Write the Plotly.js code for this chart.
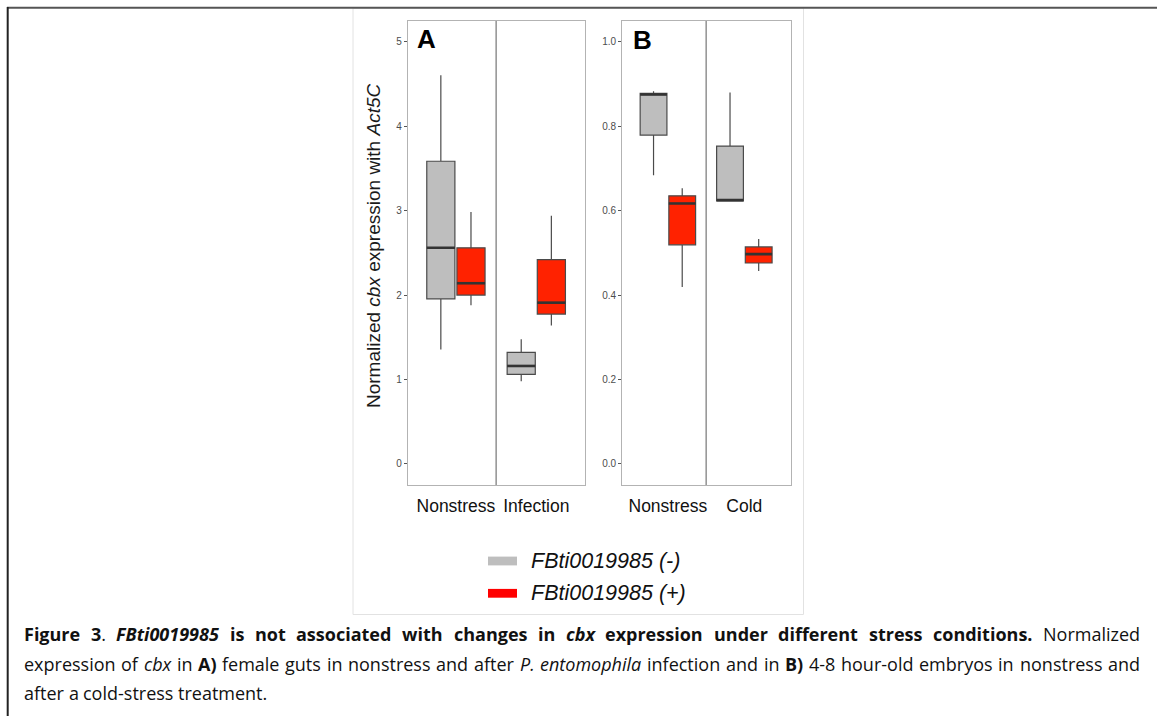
<!DOCTYPE html>
<html>
<head>
<meta charset="utf-8">
<script src="https://cdn.plot.ly/plotly-3.0.1.min.js"></script>
<style>
html,body{margin:0;padding:0;background:#fff;}
#chart{width:1157px;height:716px;}
</style>
</head>
<body>
<div id="chart"></div>
<script>
// ---------------- DATA ----------------
const categoriesA = ["Nonstress", "Infection"];
const categoriesB = ["Nonstress", "Cold"];
const groups = ["FBti0019985 (-)", "FBti0019985 (+)"];
const panelLabels = ["A", "B"];
const yTitle = "Normalized <i>cbx</i> expression with <i>Act5C</i>";

// Panel A : female guts
const aMinusLower  = [1.355, 0.98];
const aMinusQ1     = [1.955, 1.06];
const aMinusMedian = [2.56, 1.16];
const aMinusQ3     = [3.585, 1.32];
const aMinusUpper  = [4.605, 1.477];
const aPlusLower   = [1.88, 1.64];
const aPlusQ1      = [2.0, 1.775];
const aPlusMedian  = [2.14, 1.91];
const aPlusQ3      = [2.56, 2.42];
const aPlusUpper   = [2.985, 2.94];

// Panel B : embryos
const bMinusLower  = [0.684, 0.623];
const bMinusQ1     = [0.779, 0.623];
const bMinusMedian = [0.875, 0.625];
const bMinusQ3     = [0.878, 0.753];
const bMinusUpper  = [0.883, 0.88];
const bPlusLower   = [0.419, 0.457];
const bPlusQ1      = [0.519, 0.476];
const bPlusMedian  = [0.617, 0.497];
const bPlusQ3      = [0.635, 0.514];
const bPlusUpper   = [0.653, 0.533];

const yTicksA = [0, 1, 2, 3, 4, 5];
const yTicksB = [0, 0.2, 0.4, 0.6, 0.8, 1.0];

// ---------------- STYLE / LAYOUT HELPERS ----------------
const W = 1157, H = 716;
const px = x => x / W;
const py = y => 1 - y / H;
const colors = ["#bebebe", "#ff2200"];
const legendColors = ["#bebebe", "#ff0000"];
const dodge = [-0.1875, 0.1875];
const boxW = 0.35;
const axisFont = "Liberation Sans, Arial, sans-serif";

function boxTrace(stats, gi, xa, ya) {
  const pos = stats.median.map((_, i) => i + dodge[gi]);
  return {
    type: "box", x: pos,
    q1: stats.q1, median: stats.median, q3: stats.q3,
    lowerfence: stats.lower, upperfence: stats.upper,
    width: boxW, whiskerwidth: 0, boxpoints: false,
    fillcolor: colors[gi], line: {color: "#4a4a4a", width: 1.2},
    xaxis: xa, yaxis: ya, showlegend: false, hoverinfo: "skip", name: groups[gi]
  };
}
function medianShapes(stats, gi, xa, ya) {
  return stats.median.map((m, i) => ({
    type: "line", xref: xa, yref: ya,
    x0: i + dodge[gi] - boxW / 2, x1: i + dodge[gi] + boxW / 2, y0: m, y1: m,
    line: {color: "#333333", width: 2.6}
  }));
}

const sets = [
  {xa: "x", ya: "y", st: [
    {lower: aMinusLower, q1: aMinusQ1, median: aMinusMedian, q3: aMinusQ3, upper: aMinusUpper},
    {lower: aPlusLower, q1: aPlusQ1, median: aPlusMedian, q3: aPlusQ3, upper: aPlusUpper}]},
  {xa: "x2", ya: "y2", st: [
    {lower: bMinusLower, q1: bMinusQ1, median: bMinusMedian, q3: bMinusQ3, upper: bMinusUpper},
    {lower: bPlusLower, q1: bPlusQ1, median: bPlusMedian, q3: bPlusQ3, upper: bPlusUpper}]}
];

const traces = [];
const shapes = [];
sets.forEach(s => {
  shapes.push({type: "line", xref: s.xa, yref: s.ya + " domain", x0: 0.5, x1: 0.5, y0: 0, y1: 1,
               line: {color: "#5a5a5a", width: 1}, layer: "below"});
  s.st.forEach((st, gi) => {
    traces.push(boxTrace(st, gi, s.xa, s.ya));
    medianShapes(st, gi, s.xa, s.ya).forEach(sh => shapes.push(sh));
  });
});

// frame decorations
shapes.push({type: "rect", xref: "paper", yref: "paper", x0: px(353), x1: px(803.5), y0: py(614.5), y1: py(8),
             line: {color: "#e2e2e2", width: 1}, layer: "below"});
shapes.push({type: "line", xref: "paper", yref: "paper", x0: px(7), x1: 1, y0: py(7.7), y1: py(7.7),
             line: {color: "#555555", width: 2}});
shapes.push({type: "line", xref: "paper", yref: "paper", x0: px(7.7), x1: px(7.7), y0: py(7), y1: 0,
             line: {color: "#222222", width: 2}});

// legend swatches
const legendY = [561, 593.3];
groups.forEach((g, gi) => {
  shapes.push({type: "rect", xref: "paper", yref: "paper", x0: px(488), x1: px(517),
               y0: py(legendY[gi] + 4.4), y1: py(legendY[gi] - 4.4),
               fillcolor: legendColors[gi], line: {width: 0}});
});

const annotations = [];
groups.forEach((g, gi) => {
  annotations.push({xref: "paper", yref: "paper", x: px(530), y: py(legendY[gi]), xanchor: "left", yanchor: "middle",
    text: "<i>" + g + "</i>", showarrow: false, borderpad: 0,
    font: {family: axisFont, size: 21.5, color: "#111"}});
});
// panel letters
annotations.push({xref: "paper", yref: "paper", x: px(415.5), y: py(38.5), xanchor: "left", yanchor: "middle",
  text: "<b>" + panelLabels[0] + "</b>", showarrow: false, borderpad: 0, font: {family: axisFont, size: 26, color: "#000"}});
annotations.push({xref: "paper", yref: "paper", x: px(632), y: py(39.5), xanchor: "left", yanchor: "middle",
  text: "<b>" + panelLabels[1] + "</b>", showarrow: false, borderpad: 0, font: {family: axisFont, size: 26, color: "#000"}});
// y title
annotations.push({xref: "paper", yref: "paper", x: px(374), y: py(246), xanchor: "center", yanchor: "middle",
  textangle: -90, text: yTitle, showarrow: false, font: {family: axisFont, size: 19, color: "#1a1a1a"}});

// ---------------- CAPTION (justified) ----------------
const captionLines = [
  {justify: true, segs: [["b", "Figure 3"], ["n", ". "], ["bi", "FBti0019985"], ["b", " is not associated with changes in "], ["bi", "cbx"], ["b", " expression under different stress conditions."], ["n", " Normalized"]]},
  {justify: true, segs: [["n", "expression of "], ["i", "cbx"], ["n", " in "], ["b", "A)"], ["n", " female guts in nonstress and after "], ["i", "P. entomophila"], ["n", " infection and in "], ["b", "B)"], ["n", " 4-8 hour-old embryos in nonstress and"]]},
  {justify: false, segs: [["n", "after a cold-stress treatment."]]}
];
const capFamily = "Open Sans";
const capX0 = 24, capX1 = 1140;
const capY = [634, 664, 693];
const ctx = document.createElement("canvas").getContext("2d");
function setFont(st, size) {
  ctx.font = (st.includes("i") ? "italic " : "") + (st.includes("b") ? "bold " : "") + size + "px \"" + capFamily + "\"";
}
function toWords(segs) {
  const words = []; let cur = [];
  segs.forEach(([st, txt]) => {
    txt.split(" ").forEach((p, idx) => {
      if (idx > 0) { if (cur.length) words.push(cur); cur = []; }
      if (p.length) cur.push([st, p]);
    });
  });
  if (cur.length) words.push(cur);
  return words;
}
function wordWidth(w, size) { return w.reduce((a, [st, p]) => { setFont(st, size); return a + ctx.measureText(p).width; }, 0); }
function wordHtml(w) {
  return w.map(([st, p]) => {
    let t = p;
    if (st.includes("i")) t = "<i>" + t + "</i>";
    if (st.includes("b")) t = "<b>" + t + "</b>";
    return t;
  }).join("");
}
const refLastWidth = 247;
const lastWords = toWords(captionLines[2].segs);
setFont("n", 16);
const sp16 = ctx.measureText(" ").width;
const natural16 = lastWords.reduce((a, w) => a + wordWidth(w, 16), 0) + sp16 * (lastWords.length - 1);
const capSize = Math.max(14, Math.min(18, 16 * refLastWidth / natural16));
setFont("n", capSize);
const spNat = ctx.measureText(" ").width;
captionLines.forEach((ln, li) => {
  const words = toWords(ln.segs);
  const widths = words.map(w => wordWidth(w, capSize));
  const total = widths.reduce((a, b) => a + b, 0);
  let gap = spNat;
  if (ln.justify && words.length > 1) gap = Math.max(2, (capX1 - capX0 - total) / (words.length - 1));
  let x = capX0;
  words.forEach((w, wi) => {
    annotations.push({xref: "paper", yref: "paper", x: px(x), y: py(capY[li]), xanchor: "left", yanchor: "middle",
      text: wordHtml(w), showarrow: false, borderpad: 0, borderwidth: 0,
      font: {family: capFamily, size: capSize, color: "#111"}});
    x += widths[wi] + gap;
  });
});

// ---------------- AXES ----------------
const yDom = [py(485), py(20.7)];
function xAxis(dom, cats, anchor) {
  return {domain: dom, anchor: anchor, range: [-0.596, 1.606], tickvals: cats.map((_, i) => i), ticktext: cats,
    showgrid: false, zeroline: false, showline: true, mirror: true, linecolor: "#b3b3b3", linewidth: 1.2,
    ticks: "outside", ticklen: 5, tickcolor: "rgba(0,0,0,0)", tickfont: {family: axisFont, size: 17.5, color: "#111"},
    fixedrange: true};
}
function yAxis(range, ticks, fmt, anchor) {
  return {domain: yDom, anchor: anchor, range: range, tickvals: ticks, tickformat: fmt,
    showgrid: false, zeroline: false, showline: true, mirror: true, linecolor: "#b3b3b3", linewidth: 1.2,
    ticks: "outside", ticklen: 3, tickwidth: 1, tickcolor: "#555", tickfont: {family: axisFont, size: 10, color: "#4d4d4d"},
    fixedrange: true};
}

const layout = {
  width: W, height: H, margin: {l: 0, r: 0, t: 0, b: 0},
  paper_bgcolor: "#fff", plot_bgcolor: "#fff", showlegend: false, boxmode: "overlay",
  xaxis: xAxis([px(408), px(585)], categoriesA, "y"),
  xaxis2: xAxis([px(622.3), px(790.7)], categoriesB, "y2"),
  yaxis: yAxis([-0.25, 5.25], yTicksA, "d", "x"),
  yaxis2: yAxis([-0.05, 1.05], yTicksB, ".1f", "x2"),
  shapes: shapes, annotations: annotations
};

Plotly.newPlot("chart", traces, layout, {displayModeBar: false, staticPlot: true});
</script>
</body>
</html>
